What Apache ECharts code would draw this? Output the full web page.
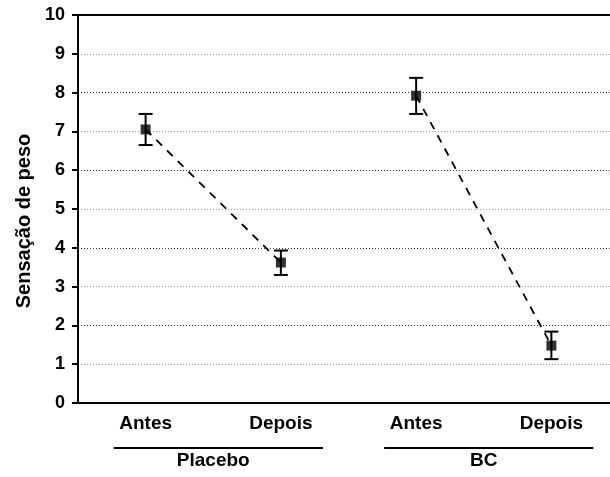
<!DOCTYPE html>
<html>
<head>
<meta charset="utf-8">
<script src="https://cdn.jsdelivr.net/npm/echarts@6/dist/echarts.min.js"></script>
<style>
  html, body { margin: 0; padding: 0; background: #fff; }
  #chart { width: 610px; height: 477px; }
</style>
</head>
<body>
<div id="chart"></div>
<script>
// dados
const categories = ["Antes", "Depois", "Antes", "Depois"];
const groups = ["Placebo", "BC"];
const means = [7.05, 3.62, 7.92, 1.48];
const errLow = [6.65, 3.30, 7.45, 1.13];
const errHigh = [7.45, 3.93, 8.38, 1.84];
const groupMembers = [[0, 1], [2, 3]];

const FONT = "Liberation Sans, Arial, sans-serif";
const chart = echarts.init(document.getElementById("chart"), null, { renderer: "canvas" });

// séries tracejadas, uma por grupo
const lineSeries = groupMembers.map(idx => ({
  type: "line",
  data: categories.map((c, i) => (idx.includes(i) ? means[i] : "-")),
  showSymbol: false,
  lineStyle: { color: "#000", width: 1.8, type: [8, 7] },
  connectNulls: false,
  z: 2,
  silent: true
}));

chart.setOption({
  animation: false,
  backgroundColor: "#fff",
  grid: { left: 78, top: 15, width: 541, height: 388, outerBoundsMode: "none", containLabel: false },
  xAxis: [
    {
      type: "category", data: categories, position: "bottom",
      axisLine: { lineStyle: { color: "#000", width: 2 } },
      axisTick: { alignWithLabel: true, length: 9, lineStyle: { color: "#000", width: 2 } },
      axisLabel: { color: "#000", fontFamily: FONT, fontWeight: "bold", fontSize: 19, margin: 11 }
    },
    {
      type: "category", data: categories, position: "top",
      axisLine: { lineStyle: { color: "#000", width: 2 } },
      axisTick: { alignWithLabel: true, inside: true, length: 8, lineStyle: { color: "#000", width: 2 } },
      axisLabel: { show: false }
    },
    {
      type: "category", data: groups, position: "bottom",
      axisLine: { show: false }, axisTick: { show: false },
      axisLabel: { color: "#000", fontFamily: FONT, fontWeight: "bold", fontSize: 19, margin: 48 }
    }
  ],
  yAxis: {
    type: "value", min: 0, max: 10, interval: 1,
    name: "Sensação de peso", nameLocation: "middle", nameGap: 44,
    nameTextStyle: { color: "#000", fontFamily: FONT, fontWeight: "bold", fontSize: 20, padding: [0, 24, 0, 0] },
    axisLine: { show: true, lineStyle: { color: "#000", width: 2 } },
    axisTick: { show: true, length: 6, lineStyle: { color: "#000", width: 2 } },
    axisLabel: { color: "#000", fontFamily: FONT, fontWeight: "bold", fontSize: 18, margin: 13 },
    splitLine: { show: true, lineStyle: { color: ["#333", "#999"], width: 1, type: [1, 2] } }
  },
  series: [
    ...lineSeries,
    {
      type: "custom",
      data: categories.map((c, i) => [i, errLow[i], errHigh[i]]),
      renderItem: (params, api) => {
        const lo = api.coord([api.value(0), api.value(1)]);
        const hi = api.coord([api.value(0), api.value(2)]);
        const hw = 7;
        const st = { stroke: "#000", lineWidth: 2 };
        return {
          type: "group",
          children: [
            { type: "line", shape: { x1: lo[0], y1: lo[1], x2: hi[0], y2: hi[1] }, style: st },
            { type: "line", shape: { x1: lo[0] - hw, y1: lo[1], x2: lo[0] + hw, y2: lo[1] }, style: st },
            { type: "line", shape: { x1: hi[0] - hw, y1: hi[1], x2: hi[0] + hw, y2: hi[1] }, style: st }
          ]
        };
      },
      z: 3,
      silent: true
    },
    {
      type: "scatter",
      data: means,
      symbol: "rect",
      symbolSize: 10,
      itemStyle: { color: "#000" },
      z: 4,
      silent: true
    }
  ]
});

// linhas sob os rótulos de grupo
const underlines = groupMembers.map(idx => {
  const x0 = chart.convertToPixel({ xAxisIndex: 0 }, idx[0]);
  const x1 = chart.convertToPixel({ xAxisIndex: 0 }, idx[idx.length - 1]);
  return {
    type: "line",
    shape: { x1: x0 - 32, y1: 448, x2: x1 + 42, y2: 448 },
    style: { stroke: "#000", lineWidth: 2 },
    silent: true
  };
});
chart.setOption({ graphic: underlines });
</script>
</body>
</html>
